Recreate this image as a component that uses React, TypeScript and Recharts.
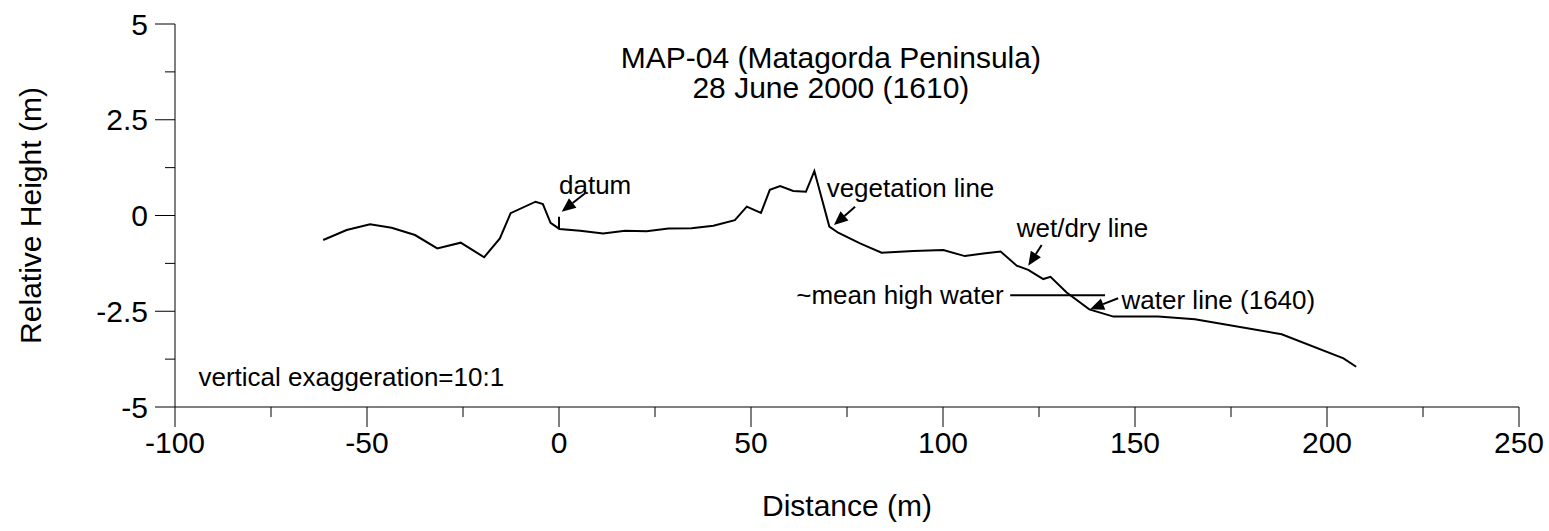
import React from 'react';
import { LineChart, Line, XAxis, YAxis, ReferenceLine, ReferenceDot, Label } from 'recharts';

const FONT = '"Liberation Sans", Arial, Helvetica, sans-serif';

// Beach profile: distance (m) and relative height (m)
const distance = [
  -61.4, -55.3, -49.2, -43.6, -37.5, -31.7, -25.6, -19.5, -15.4, -12.6, -6.1, -4.2, -2.2, 0.1,
  5.5, 11.5, 17.2, 22.8, 28.5, 34.5, 40.2, 45.8, 48.9, 52.6, 54.9, 57.6, 61.0, 64.3, 66.5,
  70.4, 72.7, 78.4, 84.0, 92.3, 100.1, 105.7, 110.5, 115.0, 119.2, 122.2, 126.1, 128.0,
  132.2, 138.1, 144.4, 156.0, 165.6, 188.2, 204.3, 207.6,
];
const height = [
  -0.64, -0.38, -0.23, -0.32, -0.51, -0.86, -0.71, -1.09, -0.6, 0.06, 0.36, 0.3, -0.19, -0.35,
  -0.4, -0.47, -0.4, -0.41, -0.34, -0.33, -0.27, -0.12, 0.23, 0.07, 0.67, 0.77, 0.64, 0.62, 1.16,
  -0.29, -0.45, -0.73, -0.97, -0.93, -0.9, -1.06, -0.99, -0.94, -1.31, -1.42, -1.66, -1.6,
  -2.01, -2.45, -2.64, -2.64, -2.71, -3.1, -3.73, -3.95,
];

const xTicks = [-100, -75, -50, -25, 0, 25, 50, 75, 100, 125, 150, 175, 200, 225, 250];
const xMajor = [-100, -50, 0, 50, 100, 150, 200, 250];
const yTicks = [-5, -3.75, -2.5, -1.25, 0, 1.25, 2.5, 3.75, 5];
const yMajor = [-5, -2.5, 0, 2.5, 5];

const titleLines = ['MAP-04 (Matagorda Peninsula)', '28 June 2000 (1610)'];
const titleX = [70.8, 70.8];
const titleY = [3.86, 3.07];

// datum marker and mean high water line
const datumMark = [{ x: 0, y: -0.03 }, { x: 0, y: -0.35 }];
const mhwLine = [{ x: 117.5, y: -2.08 }, { x: 142.2, y: -2.08 }];

const annLabels = ['datum', 'vegetation line', 'wet/dry line', '~mean high water', 'water line (1640)', 'vertical exaggeration=10:1'];
const annX = [0, 69.7, 119.2, 115.8, 146.5, -93.9];
const annY = [0.8, 0.72, -0.33, -2.08, -2.21, -4.22];
const annAnchor = ['start', 'start', 'start', 'end', 'start', 'start'];

const arrowFrom = [{ x: 6.8, y: 0.58 }, { x: 77.1, y: 0.23 }, { x: 125.7, y: -0.77 }, { x: 145.6, y: -2.16 }];
const arrowTo = [{ x: 0.7, y: 0.1 }, { x: 71.6, y: -0.25 }, { x: 122.2, y: -1.31 }, { x: 138.3, y: -2.45 }];

const profile = distance.map((d, i) => ({ x: d, y: height[i] }));

const XTick = (props: any) => {
  const { x, y, payload } = props;
  const v = payload.value;
  const major = xMajor.includes(v);
  return (
    <g>
      <line x1={x} x2={x} y1={y} y2={y + (major ? 20 : 10)} stroke="#000" strokeWidth={1} />
      {major && (
        <text x={x} y={y + 46} textAnchor="middle" fontSize={30} fontFamily={FONT} fill="#000">
          {String(v)}
        </text>
      )}
    </g>
  );
};

const YTick = (props: any) => {
  const { x, y, payload } = props;
  const v = payload.value;
  const major = yMajor.includes(v);
  return (
    <g>
      <line x1={x - (major ? 20 : 10)} x2={x} y1={y} y2={y} stroke="#000" strokeWidth={1} />
      {major && (
        <text x={x - 27} y={y} textAnchor="end" dominantBaseline="central" fontSize={30} fontFamily={FONT} fill="#000">
          {String(v)}
        </text>
      )}
    </g>
  );
};

const Arrow = (p: any) => {
  const { x1, y1, x2, y2 } = p;
  if ([x1, y1, x2, y2].some((n) => typeof n !== 'number' || isNaN(n))) return <g />;
  const ang = Math.atan2(y2 - y1, x2 - x1);
  const L = 14;
  const W = 6;
  const bx = x2 - L * Math.cos(ang);
  const by = y2 - L * Math.sin(ang);
  const pts = `${x2},${y2} ${bx - W * Math.sin(ang)},${by + W * Math.cos(ang)} ${bx + W * Math.sin(ang)},${by - W * Math.cos(ang)}`;
  return (
    <g>
      <line x1={x1} y1={y1} x2={bx} y2={by} stroke="#000" strokeWidth={2} />
      <polygon points={pts} fill="#000" />
    </g>
  );
};

export default function App() {
  return (
    <div style={{ position: 'absolute', left: 0, top: 0, background: '#fff' }}>
      <LineChart width={1549} height={531} margin={{ top: 24, right: 30, bottom: 0, left: 0 }}>
        <XAxis
          type="number"
          dataKey="x"
          domain={[-100, 250]}
          ticks={xTicks}
          interval={0}
          tickSize={0}
          tickMargin={0}
          tickLine={false}
          tick={<XTick />}
          axisLine={{ stroke: '#000', strokeWidth: 1 }}
          height={124}
          allowDataOverflow
        >
          <Label
            content={(lp: any) => {
              const vb = lp.viewBox;
              return (
                <text x={vb.x + vb.width / 2} y={vb.y + 109} textAnchor="middle" fontSize={30} fontFamily={FONT} fill="#000">
                  Distance (m)
                </text>
              );
            }}
          />
        </XAxis>
        <YAxis
          type="number"
          domain={[-5, 5]}
          ticks={yTicks}
          interval={0}
          tickSize={0}
          tickMargin={0}
          tickLine={false}
          tick={<YTick />}
          axisLine={{ stroke: '#000', strokeWidth: 1 }}
          width={175}
          allowDataOverflow
        >
          <Label
            content={(lp: any) => {
              const vb = lp.viewBox;
              const cx = 30;
              const cy = vb.y + vb.height / 2;
              return (
                <text
                  x={cx}
                  y={cy}
                  transform={`rotate(-90, ${cx}, ${cy})`}
                  textAnchor="middle"
                  dominantBaseline="central"
                  fontSize={30}
                  fontFamily={FONT}
                  fill="#000"
                >
                  Relative Height (m)
                </text>
              );
            }}
          />
        </YAxis>
        <Line
          data={profile}
          dataKey="y"
          type="linear"
          stroke="#000"
          strokeWidth={2}
          dot={false}
          activeDot={false}
          isAnimationActive={false}
        />
        <ReferenceLine segment={datumMark} stroke="#000" strokeWidth={2} ifOverflow="visible" />
        <ReferenceLine segment={mhwLine} stroke="#000" strokeWidth={2} ifOverflow="visible" />
        {arrowFrom.map((f, i) => (
          <ReferenceLine key={`arr${i}`} segment={[f, arrowTo[i]]} ifOverflow="visible" shape={Arrow} />
        ))}
        {titleLines.map((t, i) => (
          <ReferenceDot
            key={`t${i}`}
            x={titleX[i]}
            y={titleY[i]}
            r={0}
            ifOverflow="visible"
            shape={(p: any) => (
              <text x={p.cx} y={p.cy} textAnchor="middle" fontSize={30} fontFamily={FONT} fill="#000">
                {t}
              </text>
            )}
          />
        ))}
        {annLabels.map((t, i) => (
          <ReferenceDot
            key={`a${i}`}
            x={annX[i]}
            y={annY[i]}
            r={0}
            ifOverflow="visible"
            shape={(p: any) => (
              <text
                x={p.cx}
                y={p.cy}
                textAnchor={annAnchor[i] as any}
                dominantBaseline="central"
                fontSize={26}
                fontFamily={FONT}
                fill="#000"
              >
                {t}
              </text>
            )}
          />
        ))}
      </LineChart>
    </div>
  );
}
